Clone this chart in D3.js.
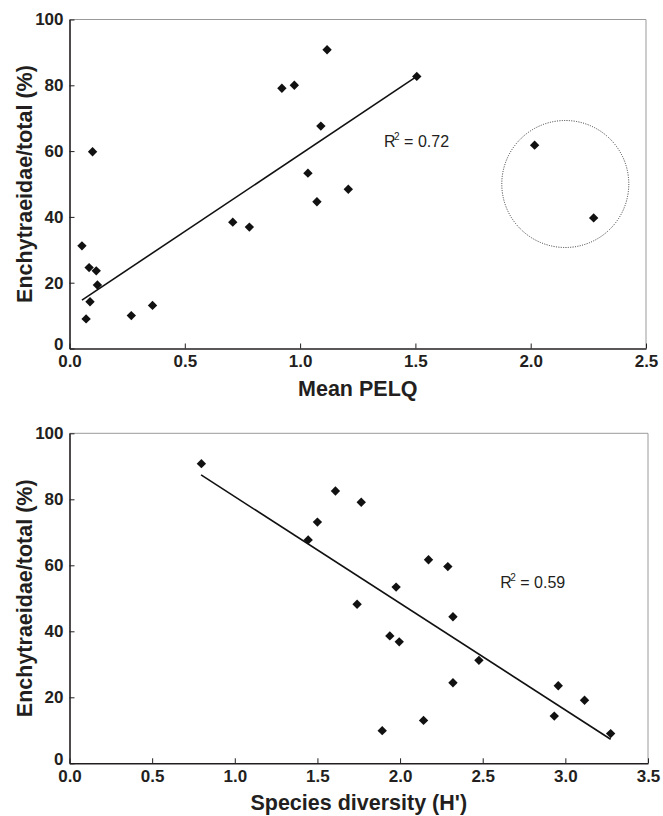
<!DOCTYPE html>
<html>
<head>
<meta charset="utf-8">
<script src="https://cdn.jsdelivr.net/npm/d3@7"></script>
<style>
  body { margin: 0; background: #fff; }
  svg text { font-family: "Liberation Sans", Arial, Helvetica, sans-serif; fill: #231f20; }
  .axis-title { font-size: 21.5px; font-weight: bold; }
  .r2 { font-size: 16px; }
</style>
</head>
<body>
<div id="chart"></div>
<script>
// panel A: mean PELQ vs share of enchytraeids
const pelq = [0.054, 0.085, 0.116, 0.121, 0.089, 0.072, 0.10, 0.268, 0.36, 0.708, 0.78,
  0.921, 0.975, 1.117, 1.09, 1.034, 1.073, 1.506, 1.209, 2.017, 2.273];
const pelqShare = [31.2, 24.6, 23.6, 19.3, 14.2, 9.0, 59.8, 10.0, 13.1, 38.4, 36.9,
  79.1, 80.0, 90.8, 67.6, 53.3, 44.6, 82.7, 48.4, 61.8, 39.7];
const pelqFitX = [0.054, 1.506];
const pelqFitY = [14.7, 82.7];
const pelqOutlierCentre = [2.15, 50];
const pelqTicks = [0, 0.5, 1.0, 1.5, 2.0, 2.5];

// panel B: species diversity vs share of enchytraeids
const diversity = [0.798, 1.444, 1.5, 1.609, 1.765, 2.172, 2.289, 1.976, 1.74, 2.32,
  1.938, 1.995, 2.477, 2.32, 2.957, 3.116, 2.933, 2.142, 1.892, 3.274];
const diversityShare = [90.8, 67.7, 73.1, 82.5, 79.1, 61.7, 59.6, 53.4, 48.2, 44.4,
  38.6, 36.8, 31.2, 24.4, 23.5, 19.1, 14.3, 13.0, 9.9, 9.0];
const diversityFitX = [0.796, 3.274];
const diversityFitY = [87.4, 7.3];
const diversityTicks = [0, 0.5, 1.0, 1.5, 2.0, 2.5, 3.0, 3.5];

const shareTicks = [0, 20, 40, 60, 80, 100];

const svg = d3.select("#chart")
  .append("svg")
    .attr("width", 663)
    .attr("height", 816);

function styleAxis(ax) {
  ax.attr("font-family", null).attr("font-size", null);
  ax.select(".domain").attr("stroke", "#231f20").attr("stroke-width", 1.6);
  ax.selectAll(".tick line").attr("stroke", "#231f20");
  ax.selectAll(".tick text")
    .style("font-size", "17px")
    .style("font-weight", "bold");
}

function drawPanel(opt) {
  const x = d3.scaleLinear().domain([0, d3.max(opt.xTicks)]).range([opt.left, opt.right]);
  const y = d3.scaleLinear().domain([0, 100]).range([opt.bottom, opt.top]);
  const g = svg.append("g");

  // light frame on top and right
  g.append("path")
    .attr("d", `M${opt.left},${opt.top}H${opt.right}V${opt.bottom}`)
    .attr("fill", "none")
    .attr("stroke", "#9a9a9a")
    .attr("stroke-width", 1);

  // x axis
  const xAxis = g.append("g")
    .attr("transform", `translate(0,${opt.bottom})`)
    .call(d3.axisBottom(x)
      .tickValues(opt.xTicks)
      .tickFormat(d3.format(".1f"))
      .tickSizeInner(-5)
      .tickSizeOuter(0)
      .tickPadding(6.5));
  styleAxis(xAxis);

  // y axis
  const yAxis = g.append("g")
    .attr("transform", `translate(${opt.left},0)`)
    .call(d3.axisLeft(y)
      .tickValues(shareTicks)
      .tickSizeInner(-5)
      .tickSizeOuter(0)
      .tickPadding(6));
  styleAxis(yAxis);
  // lift the zero a little so it clears the 0.0 below it
  yAxis.selectAll(".tick text").filter(d => d === 0).attr("dy", "0.05em");

  // regression line
  g.append("path")
    .datum(d3.zip(opt.fitX, opt.fitY))
    .attr("d", d3.line().x(d => x(d[0])).y(d => y(d[1])))
    .attr("fill", "none")
    .attr("stroke", "#111")
    .attr("stroke-width", 1.6);

  // excluded points circled
  if (opt.circle) {
    g.append("circle")
      .attr("cx", x(opt.circle[0]))
      .attr("cy", y(opt.circle[1]))
      .attr("r", 63.5)
      .attr("fill", "none")
      .attr("stroke", "#333")
      .attr("stroke-width", 1)
      .attr("stroke-dasharray", "1,1.4");
  }

  // diamonds
  const diamond = d3.symbol(d3.symbolSquare, 44);
  g.selectAll(".pt")
    .data(d3.zip(opt.xs, opt.ys))
    .join("path")
      .attr("class", "pt")
      .attr("d", diamond)
      .attr("transform", d => `translate(${x(d[0])},${y(d[1])}) rotate(45)`)
      .attr("fill", "#111");

  // R squared
  const r2 = g.append("text")
    .attr("class", "r2")
    .attr("x", x(opt.r2At[0]))
    .attr("y", y(opt.r2At[1]));
  r2.append("tspan").text("R");
  r2.append("tspan").attr("font-size", 10).attr("dx", -1.5).attr("dy", -7).text("2");
  r2.append("tspan").attr("dy", 7).text(` = ${opt.r2}`);

  // axis titles
  g.append("text")
    .attr("class", "axis-title")
    .attr("x", (opt.left + opt.right) / 2)
    .attr("y", opt.bottom + 47)
    .attr("text-anchor", "middle")
    .text(opt.xLabel);

  g.append("text")
    .attr("class", "axis-title")
    .attr("transform", "rotate(-90)")
    .attr("x", -(opt.top + opt.bottom) / 2)
    .attr("y", 32)
    .attr("text-anchor", "middle")
    .text("Enchytraeidae/total (%)");
}

drawPanel({
  left: 69.5, right: 646, top: 19.5, bottom: 348.5,
  xTicks: pelqTicks, xs: pelq, ys: pelqShare,
  fitX: pelqFitX, fitY: pelqFitY,
  circle: pelqOutlierCentre,
  r2: "0.72", r2At: [1.364, 61.2],
  xLabel: "Mean PELQ"
});

drawPanel({
  left: 69.5, right: 648, top: 433.3, bottom: 763.3,
  xTicks: diversityTicks, xs: diversity, ys: diversityShare,
  fitX: diversityFitX, fitY: diversityFitY,
  r2: "0.59", r2At: [2.606, 53.1],
  xLabel: "Species diversity (H')"
});
</script>
</body>
</html>
